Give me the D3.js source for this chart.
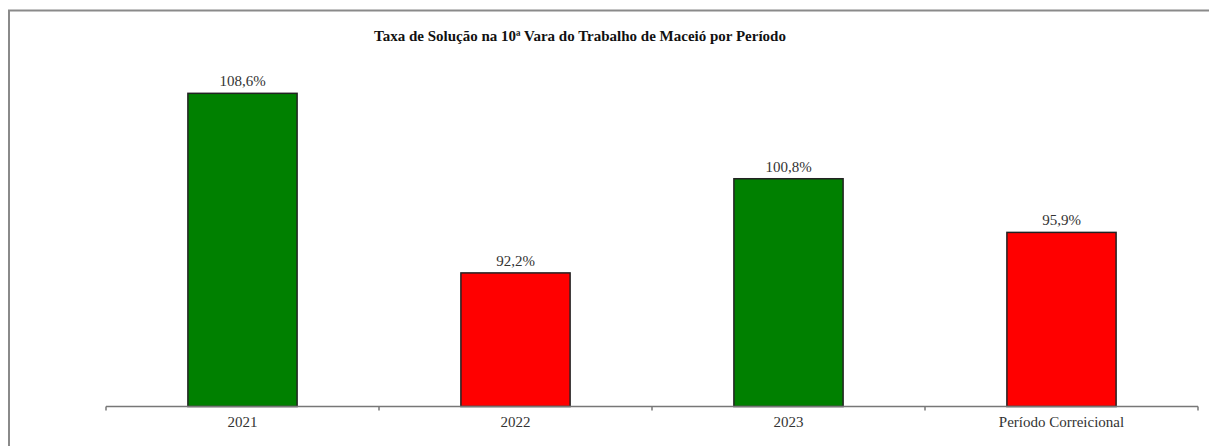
<!DOCTYPE html>
<html>
<head>
<meta charset="utf-8">
<script src="https://d3js.org/d3.v7.min.js"></script>
<style>
  html, body { margin: 0; padding: 0; background: #fff; overflow: hidden; }
  svg { display: block; }
  text { font-family: 'Liberation Serif', 'Times New Roman', 'DejaVu Serif', serif; }
</style>
</head>
<body>
<div id="chart"></div>
<script>
// Data ----------------------------------------------------------------------->
const categories = ['2021', '2022', '2023', 'Período Correicional'];
const rates = [108.6, 92.2, 100.8, 95.9];
const bar_colors = ['#008000', '#ff0000', '#008000', '#ff0000'];
const title_text = 'Taxa de Solução na 10ª Vara do Trabalho de Maceió por Período';

// Setup ---------------------------------------------------------------------->
const width = 1209, height = 446;
const svg = d3.select('#chart')
  .append('svg')
    .attr('width', width)
    .attr('height', height);

// Frame (top and left edges visible only)
svg.append('path')
  .attr('d', 'M9,446 V10.5 H1209')
  .attr('fill', 'none')
  .attr('stroke', '#8a8a8a')
  .attr('stroke-width', 2);

// Scales
const x = d3.scaleBand()
  .domain(categories)
  .range([106, 1198])
  .paddingInner(0.6)
  .paddingOuter(0.3);
const y = d3.scaleLinear()
  .domain([80, 110])
  .range([406.5, 78]);

// Title
svg.append('text')
  .attr('x', 580)
  .attr('y', 41)
  .attr('text-anchor', 'middle')
  .attr('font-weight', 'bold')
  .attr('font-size', 15)
  .attr('fill', '#111')
  .text(title_text);

// Bars
svg.append('g')
  .selectAll('rect')
  .data(rates)
  .join('rect')
    .attr('x', (d, i) => x(categories[i]))
    .attr('y', d => y(d))
    .attr('width', x.bandwidth())
    .attr('height', d => y(80) - y(d))
    .attr('fill', (d, i) => bar_colors[i])
    .attr('stroke', '#222')
    .attr('stroke-width', 1.5);

// Value labels
svg.append('g')
  .selectAll('text')
  .data(rates)
  .join('text')
    .attr('x', (d, i) => x(categories[i]) + x.bandwidth() / 2)
    .attr('y', d => y(d) - 7)
    .attr('text-anchor', 'middle')
    .attr('font-size', 15)
    .attr('fill', '#333')
    .text(d => d3.format('.1f')(d).replace('.', ',') + '%');

// X axis with ticks at band boundaries
const axis_g = svg.append('g')
  .attr('transform', 'translate(0,' + y(80) + ')');
const boundaries = d3.range(categories.length + 1).map(i => 106 + i * (1092 / categories.length));
axis_g.append('line')
  .attr('x1', 106).attr('x2', 1198)
  .attr('stroke', '#777').attr('stroke-width', 1.5);
axis_g.selectAll('.tick')
  .data(boundaries)
  .join('line')
    .attr('x1', d => d).attr('x2', d => d)
    .attr('y1', 0).attr('y2', 4)
    .attr('stroke', '#777').attr('stroke-width', 1.5);
axis_g.selectAll('.cat-label')
  .data(categories)
  .join('text')
    .attr('x', d => x(d) + x.bandwidth() / 2)
    .attr('y', 20)
    .attr('text-anchor', 'middle')
    .attr('font-size', 15)
    .attr('fill', '#333')
    .text(d => d);
</script>
</body>
</html>
